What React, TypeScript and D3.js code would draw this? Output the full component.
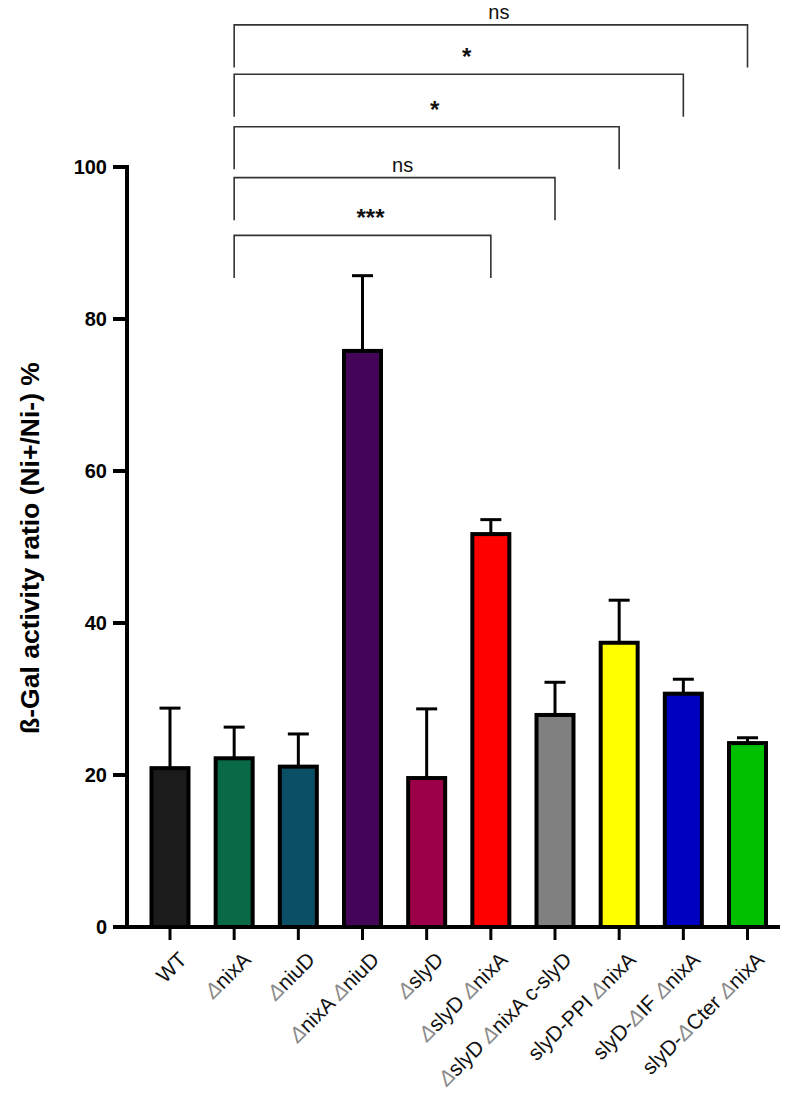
import React from "react";
import * as d3 from "d3";

const categories = [
  "WT",
  "ΔnixA",
  "ΔniuD",
  "ΔnixA ΔniuD",
  "ΔslyD",
  "ΔslyD ΔnixA",
  "ΔslyD ΔnixA c-slyD",
  "slyD-PPI ΔnixA",
  "slyD-ΔIF ΔnixA",
  "slyD-ΔCter ΔnixA",
];
const means = [20.9, 22.2, 21.1, 75.8, 19.6, 51.7, 27.9, 37.4, 30.7, 24.2];
const upperErr = [28.8, 26.3, 25.4, 85.7, 28.7, 53.6, 32.2, 43.0, 32.6, 24.9];
const barColors = [
  "#1b1b1b",
  "#0b6a46",
  "#0a4f66",
  "#440457",
  "#9b0048",
  "#ff0000",
  "#808080",
  "#ffff00",
  "#0000c0",
  "#00c000",
];
const yTicks = [0, 20, 40, 60, 80, 100];

const compRef = "ΔnixA";
const compTargets = ["ΔslyD ΔnixA", "ΔslyD ΔnixA c-slyD", "slyD-PPI ΔnixA", "slyD-ΔIF ΔnixA", "slyD-ΔCter ΔnixA"];
const compLabels = ["***", "ns", "*", "*", "ns"];
const compLevels = [91.0, 98.6, 105.3, 112.2, 118.7];
const compDrop = 5.6;

const W = 800;
const H = 1104;
const FONT = "'Liberation Sans', Arial, Helvetica, sans-serif";

const y = d3.scaleLinear().domain([0, 100]).range([927, 167]);
const x = d3.scalePoint<string>().domain(categories).range([170, 747.5]);
const barW = 37;

function Label({ text, px, py }: { text: string; px: number; py: number }) {
  const parts = text.split("Δ");
  return (
    <text
      transform={`translate(${px},${py}) rotate(-45)`}
      textAnchor="end"
      fontFamily={FONT}
      fontSize={21}
      fill="#111"
    >
      {parts.map((p, i) => (
        <React.Fragment key={i}>
          {i > 0 && (
            <tspan fill="#8a8a8a" fontStyle="italic">
              Δ
            </tspan>
          )}
          {p && <tspan>{p}</tspan>}
        </React.Fragment>
      ))}
    </text>
  );
}

export default function App() {
  return (
    <svg
      width={W}
      height={H}
      viewBox={`0 0 ${W} ${H}`}
      style={{ position: "absolute", left: 0, top: 0, background: "#fff" }}
    >
      <rect x={0} y={0} width={W} height={H} fill="#fff" />
      {/* bars */}
      {categories.map((c, i) => {
        const cx = x(c)!;
        return (
          <g key={c}>
            <line x1={cx} x2={cx} y1={y(means[i])} y2={y(upperErr[i])} stroke="#000" strokeWidth={3} />
            <line x1={cx - 10.5} x2={cx + 10.5} y1={y(upperErr[i])} y2={y(upperErr[i])} stroke="#000" strokeWidth={3} />
            <rect
              x={cx - barW / 2}
              y={y(means[i])}
              width={barW}
              height={y(0) - y(means[i])}
              fill={barColors[i]}
              stroke="#000"
              strokeWidth={4}
            />
          </g>
        );
      })}
      {/* y axis */}
      <line x1={127} x2={127} y1={y(100) - 2} y2={y(0) + 2} stroke="#000" strokeWidth={4} />
      {yTicks.map((t) => (
        <g key={t}>
          <line x1={113} x2={127} y1={y(t)} y2={y(t)} stroke="#000" strokeWidth={4} />
          <text
            x={107}
            y={y(t)}
            dy="0.36em"
            textAnchor="end"
            fontFamily={FONT}
            fontWeight="bold"
            fontSize={20}
          >
            {t}
          </text>
        </g>
      ))}
      <text
        transform={`translate(39,548) rotate(-90)`}
        textAnchor="middle"
        fontFamily={FONT}
        fontWeight="bold"
        fontSize={26.5}
      >
        ß-Gal activity ratio (Ni+/Ni-) %
      </text>
      {/* x axis */}
      <line x1={125} x2={780} y1={y(0)} y2={y(0)} stroke="#000" strokeWidth={4} />
      {categories.map((c) => (
        <line key={c} x1={x(c)!} x2={x(c)!} y1={y(0)} y2={y(0) + 13} stroke="#000" strokeWidth={3} />
      ))}
      {categories.map((c) => (
        <Label key={c} text={c} px={x(c)! + 18} py={961} />
      ))}
      {/* significance brackets */}
      {compTargets.map((t, i) => {
        const x1 = x(compRef)!;
        const x2 = x(t)!;
        const yy = y(compLevels[i]);
        const yb = y(compLevels[i] - compDrop);
        const isStar = compLabels[i].includes("*");
        return (
          <g key={t}>
            <path
              d={`M${x1},${yb}V${yy}H${x2}V${yb}`}
              fill="none"
              stroke="#333"
              strokeWidth={1.6}
            />
            <text
              x={(x1 + x2) / 2 + 8}
              y={yy - (isStar ? 9 : 6)}
              textAnchor="middle"
              fontFamily={FONT}
              fontSize={isStar ? 24 : 20}
              fontWeight={isStar ? "bold" : "normal"}
              fill="#111"
            >
              {compLabels[i]}
            </text>
          </g>
        );
      })}
    </svg>
  );
}
